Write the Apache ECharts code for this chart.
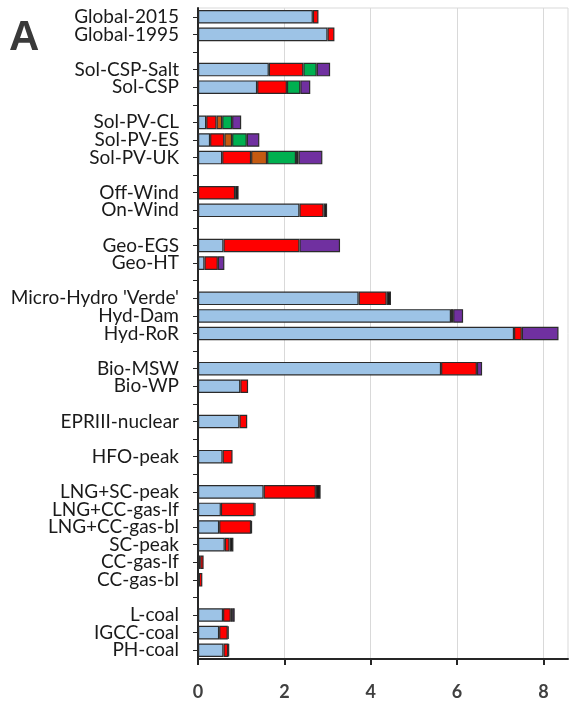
<!DOCTYPE html>
<html>
<head>
<meta charset="utf-8">
<script src="https://cdn.jsdelivr.net/npm/echarts@6/dist/echarts.min.js"></script>
<style>
  html, body { margin: 0; padding: 0; background: #fff; }
  #chart { width: 571px; height: 704px; }
</style>
</head>
<body>
<div id="chart"></div>
<script>
// Technology rows, top to bottom; empty strings are spacer rows between groups
const categories = ['Global-2015', 'Global-1995', '', 'Sol-CSP-Salt', 'Sol-CSP', '',
  'Sol-PV-CL', 'Sol-PV-ES', 'Sol-PV-UK', '', 'Off-Wind', 'On-Wind', '',
  'Geo-EGS', 'Geo-HT', '', "Micro-Hydro 'Verde'", 'Hyd-Dam', 'Hyd-RoR', '',
  'Bio-MSW', 'Bio-WP', '', 'EPRIII-nuclear', '', 'HFO-peak', '',
  'LNG+SC-peak', 'LNG+CC-gas-lf', 'LNG+CC-gas-bl', 'SC-peak', 'CC-gas-lf', 'CC-gas-bl', '',
  'L-coal', 'IGCC-coal', 'PH-coal'];

// Stacked components, one value per row (0 = no segment)
const blueVals = [2.66, 3.00, 0, 1.64, 1.37, 0, 0.19, 0.28, 0.56, 0, 0, 2.35, 0, 0.59, 0.15, 0,
  3.72, 5.86, 7.32, 0, 5.63, 0.98, 0, 0.96, 0, 0.57, 0, 1.52, 0.53, 0.49, 0.62, 0.05, 0.02, 0,
  0.58, 0.49, 0.59];
const redVals = [0.13, 0.16, 0, 0.80, 0.69, 0, 0.24, 0.33, 0.67, 0, 0.86, 0.56, 0, 1.76, 0.31, 0,
  0.65, 0.05, 0.18, 0, 0.83, 0.18, 0, 0.18, 0, 0.23, 0, 1.21, 0.78, 0.74, 0.11, 0.08, 0.08, 0,
  0.18, 0.20, 0.11];
const orangeVals = [0, 0, 0, 0, 0, 0, 0.13, 0.18, 0.37, 0, 0, 0, 0, 0, 0, 0,
  0, 0, 0, 0, 0, 0, 0, 0, 0, 0, 0, 0, 0, 0, 0, 0, 0, 0, 0, 0, 0];
const greenVals = [0, 0, 0, 0.31, 0.31, 0, 0.23, 0.34, 0.67, 0, 0, 0, 0, 0, 0, 0,
  0, 0, 0, 0, 0, 0, 0, 0, 0, 0, 0, 0, 0, 0, 0, 0, 0, 0, 0, 0, 0];
const blackVals = [0, 0, 0, 0, 0, 0, 0, 0, 0.06, 0, 0.08, 0.08, 0, 0, 0, 0,
  0.10, 0, 0, 0, 0, 0, 0, 0, 0, 0, 0, 0.11, 0.02, 0.02, 0.09, 0, 0, 0, 0.03, 0.02, 0.02];
const purpleVals = [0, 0, 0, 0.31, 0.23, 0, 0.21, 0.29, 0.55, 0, 0, 0, 0, 0.94, 0.15, 0,
  0, 0.23, 0.85, 0, 0.12, 0, 0, 0, 0, 0, 0, 0, 0, 0, 0, 0, 0, 0, 0.06, 0, 0];

// Value axis ticks
const xTicks = [0, 2, 4, 6, 8];

const layers = [
  { name: 'blue', values: blueVals, color: '#9DC3E6' },
  { name: 'red', values: redVals, color: '#FF0000' },
  { name: 'orange', values: orangeVals, color: '#C55A11' },
  { name: 'green', values: greenVals, color: '#00B050' },
  { name: 'black', values: blackVals, color: '#1A1A1A' },
  { name: 'purple', values: purpleVals, color: '#7030A0' }
];

const chart = echarts.init(document.getElementById('chart'), null, { renderer: 'canvas' });

chart.setOption({
  animation: false,
  backgroundColor: '#fff',
  grid: {
    left: 198, top: 8, right: 3, bottom: 45,
    show: true, borderColor: '#D9D9D9', borderWidth: 1
  },
  graphic: [{
    type: 'text', left: 9, top: 17,
    style: { text: 'A', fontFamily: 'Liberation Sans', fontWeight: 'bold', fontSize: 42, fill: '#3A3A3A' }
  }],
  xAxis: {
    type: 'value', min: 0, max: 8.57, interval: 2,
    axisLine: { show: true, lineStyle: { color: '#262626', width: 2 } },
    axisTick: { show: true, customValues: xTicks, length: 6, inside: false, lineStyle: { color: '#262626', width: 2 } },
    axisLabel: {
      customValues: xTicks, margin: 24,
      fontFamily: 'Lato', fontWeight: 'bold', fontSize: 18, color: '#404040'
    },
    splitLine: { show: true, lineStyle: { color: '#D9D9D9', width: 1 } }
  },
  yAxis: {
    type: 'category', data: categories, inverse: true,
    axisLine: { show: true, lineStyle: { color: '#262626', width: 2 } },
    axisTick: { show: true, alignWithLabel: true, length: 5, lineStyle: { color: '#262626', width: 1 } },
    axisLabel: {
      interval: 0, margin: 19,
      fontFamily: 'Lato', fontSize: 19, color: '#1A1A1A'
    },
    splitLine: { show: false }
  },
  series: layers.map(l => ({
    name: l.name,
    type: 'bar',
    stack: 'total',
    barWidth: '77%',
    itemStyle: { color: l.color, borderColor: '#2B2B2B', borderWidth: 1.2 },
    data: l.values.map(v => (v > 0 ? v : '-'))
  }))
});
</script>
</body>
</html>
